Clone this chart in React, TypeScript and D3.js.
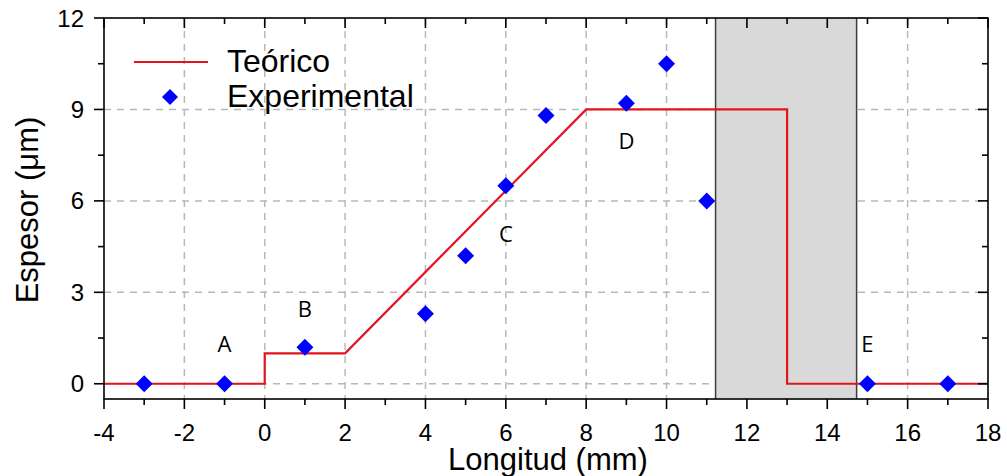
import React from "react";
import * as d3 from "d3";

const W = 1007;
const H = 476;

// Data
const theoryX = [-4, 0, 0, 2, 8, 13, 13, 18];
const theoryY = [0, 0, 1, 1, 9, 9, 0, 0];
const expX = [-3, -1, 1, 4, 5, 6, 7, 9, 10, 11, 15, 17];
const expY = [0, 0, 1.2, 2.3, 4.2, 6.5, 8.8, 9.2, 10.5, 6.0, 0, 0];
const xTicks = [-4, -2, 0, 2, 4, 6, 8, 10, 12, 14, 16, 18];
const xMinor = [-3, -1, 1, 3, 5, 7, 9, 11, 13, 15, 17];
const yTicks = [0, 3, 6, 9, 12];
const yMinor = [1.5, 4.5, 7.5, 10.5];
const shadeRange = [11.22, 14.73];
const pointLabels = ["A", "B", "C", "D", "E"];
const labelX = [-1, 1, 6, 9, 15];
const labelY = [1.04, 2.19, 4.65, 7.71, 1.04];

const M = { left: 104, right: 988, top: 18, bottom: 399 };

export default function App() {
  const x = d3.scaleLinear().domain([-4, 18]).range([M.left, M.right]);
  const y = d3.scaleLinear().domain([-0.5, 12]).range([M.bottom, M.top]);

  const line = d3
    .line<number>()
    .x((d, i) => x(theoryX[i]))
    .y((d, i) => y(theoryY[i]));
  const theoryPath = line(theoryY) || "";

  const diamond = (cx: number, cy: number, r: number) =>
    `M${cx},${cy - r}L${cx + r},${cy}L${cx},${cy + r}L${cx - r},${cy}Z`;

  const gridColor = "#b8b8b8";
  const font = "Arial, 'Liberation Sans', sans-serif";

  return (
    <div style={{ position: "fixed", left: 0, top: 0 }}>
      <svg width={W} height={H} style={{ display: "block", background: "#fff" }}>
        {/* grid */}
        {xTicks
          .filter((t) => t > -4 && t < 18)
          .map((t) => (
            <line
              key={"gx" + t}
              x1={x(t)}
              x2={x(t)}
              y1={M.top}
              y2={M.bottom}
              stroke={gridColor}
              strokeWidth={1.5}
              strokeDasharray="7,6"
            />
          ))}
        {yTicks
          .filter((t) => t < 12)
          .map((t) => (
            <line
              key={"gy" + t}
              x1={M.left}
              x2={M.right}
              y1={y(t)}
              y2={y(t)}
              stroke={gridColor}
              strokeWidth={1.5}
              strokeDasharray="7,6"
            />
          ))}

        {/* shaded region */}
        <rect
          x={x(shadeRange[0])}
          y={M.top}
          width={x(shadeRange[1]) - x(shadeRange[0])}
          height={M.bottom - M.top}
          fill="#d9d9d9"
        />
        <line x1={x(shadeRange[0])} x2={x(shadeRange[0])} y1={M.top} y2={M.bottom} stroke="#3c3c3c" strokeWidth={1.5} />
        <line x1={x(shadeRange[1])} x2={x(shadeRange[1])} y1={M.top} y2={M.bottom} stroke="#3c3c3c" strokeWidth={1.5} />

        {/* theoretical line */}
        <path d={theoryPath} fill="none" stroke="#e3141c" strokeWidth={2.2} />

        {/* experimental points */}
        {expX.map((v, i) => (
          <path key={"p" + i} d={diamond(x(v), y(expY[i]), 8.5)} fill="#0000ff" />
        ))}

        {/* point labels */}
        {pointLabels.map((t, i) => (
          <text
            key={"l" + t}
            x={x(labelX[i])}
            y={y(labelY[i])}
            textAnchor="middle"
            fontFamily="'Open Sans', sans-serif"
            fontSize={22}
            fill="#000"
          >
            {t}
          </text>
        ))}

        {/* frame */}
        <rect
          x={M.left}
          y={M.top}
          width={M.right - M.left}
          height={M.bottom - M.top}
          fill="none"
          stroke="#000"
          strokeWidth={1.6}
        />

        {/* bottom ticks (outward) */}
        {xTicks.map((t) => (
          <line key={"bt" + t} x1={x(t)} x2={x(t)} y1={M.bottom} y2={M.bottom + 10} stroke="#000" strokeWidth={1.6} />
        ))}
        {xMinor.map((t) => (
          <line key={"bm" + t} x1={x(t)} x2={x(t)} y1={M.bottom} y2={M.bottom + 6} stroke="#000" strokeWidth={1.6} />
        ))}
        {/* top ticks (inward) */}
        {xTicks.map((t) => (
          <line key={"tt" + t} x1={x(t)} x2={x(t)} y1={M.top} y2={M.top + 10} stroke="#000" strokeWidth={1.6} />
        ))}
        {xMinor.map((t) => (
          <line key={"tm" + t} x1={x(t)} x2={x(t)} y1={M.top} y2={M.top + 6} stroke="#000" strokeWidth={1.6} />
        ))}
        {/* left ticks (outward) */}
        {yTicks.map((t) => (
          <line key={"lt" + t} x1={M.left - 10} x2={M.left} y1={y(t)} y2={y(t)} stroke="#000" strokeWidth={1.6} />
        ))}
        {yMinor.map((t) => (
          <line key={"lm" + t} x1={M.left - 6} x2={M.left} y1={y(t)} y2={y(t)} stroke="#000" strokeWidth={1.6} />
        ))}
        {/* right ticks (inward) */}
        {yTicks.map((t) => (
          <line key={"rt" + t} x1={M.right - 10} x2={M.right} y1={y(t)} y2={y(t)} stroke="#000" strokeWidth={1.6} />
        ))}
        {yMinor.map((t) => (
          <line key={"rm" + t} x1={M.right - 6} x2={M.right} y1={y(t)} y2={y(t)} stroke="#000" strokeWidth={1.6} />
        ))}

        {/* tick labels */}
        {xTicks.map((t) => (
          <text key={"xl" + t} x={x(t)} y={441} textAnchor="middle" fontFamily={font} fontSize={24} fill="#000">
            {t}
          </text>
        ))}
        {yTicks.map((t) => (
          <text key={"yl" + t} x={84} y={y(t) + 8.5} textAnchor="end" fontFamily={font} fontSize={24} fill="#000">
            {t}
          </text>
        ))}

        {/* axis titles */}
        <text x={(M.left + M.right) / 2 + 2} y={470} textAnchor="middle" fontFamily={font} fontSize={31} fill="#000">
          Longitud (mm)
        </text>
        <text
          transform={`translate(38, 210) rotate(-90)`}
          textAnchor="middle"
          fontFamily={font}
          fontSize={31}
          fill="#000"
        >
          Espesor (μm)
        </text>

        {/* legend */}
        <line x1={134} x2={208} y1={62} y2={62} stroke="#e3141c" strokeWidth={2.2} />
        <text x={227} y={72} fontFamily={font} fontSize={32} fill="#000">
          Teórico
        </text>
        <path d={diamond(170, 97, 8)} fill="#0000ff" />
        <text x={227} y={107} fontFamily={font} fontSize={32} fill="#000">
          Experimental
        </text>
      </svg>
    </div>
  );
}
